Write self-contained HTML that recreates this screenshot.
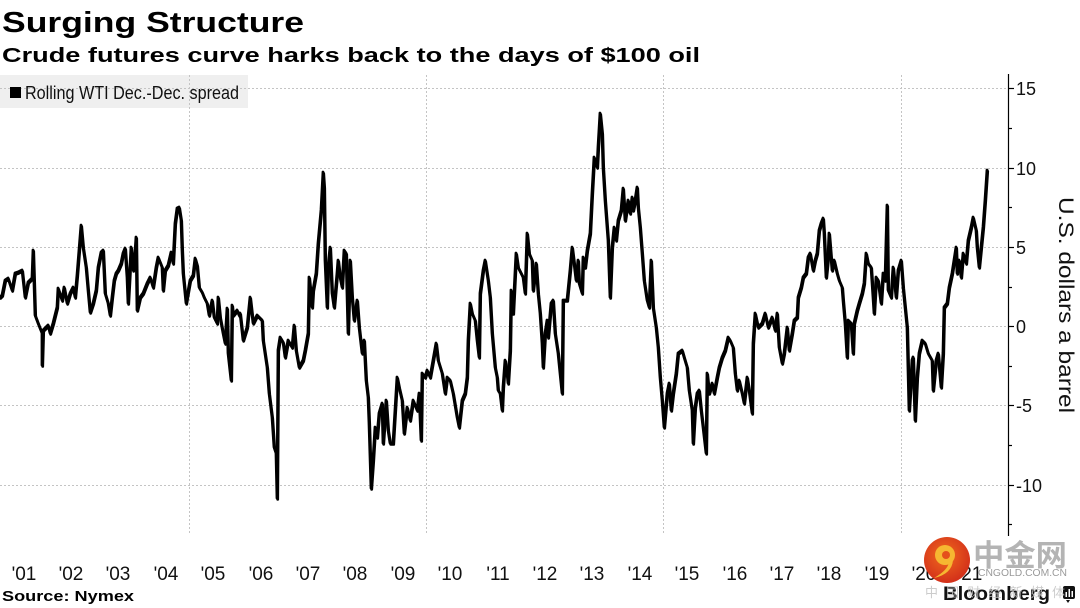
<!DOCTYPE html>
<html>
<head>
<meta charset="utf-8">
<style>
html,body{margin:0;padding:0;background:#fff;}
svg{display:block;}
text{font-family:"Liberation Sans","Noto Sans CJK SC",sans-serif;}
</style>
</head>
<body>
<svg width="1080" height="608" viewBox="0 0 1080 608" xmlns="http://www.w3.org/2000/svg">
<rect x="0" y="0" width="1080" height="608" fill="#ffffff"/>
<!-- titles -->
<text x="2" y="32" font-family="'DejaVu Sans','Liberation Sans',sans-serif" font-size="29" font-weight="bold" fill="#000" textLength="302" lengthAdjust="spacingAndGlyphs">Surging Structure</text>
<text x="2" y="62" font-family="'DejaVu Sans','Liberation Sans',sans-serif" font-size="20" font-weight="bold" fill="#000" textLength="698" lengthAdjust="spacingAndGlyphs">Crude futures curve harks back to the days of $100 oil</text>

<!-- legend box -->
<rect x="0" y="75" width="248" height="33" fill="#efefef"/>

<!-- gridlines -->
<g stroke="#c4c4c4" stroke-width="1" stroke-dasharray="2,2" fill="none">
<line x1="0" y1="88.5" x2="1008" y2="88.5"/>
<line x1="0" y1="168.5" x2="1008" y2="168.5"/>
<line x1="0" y1="247.5" x2="1008" y2="247.5"/>
<line x1="0" y1="326.5" x2="1008" y2="326.5"/>
<line x1="0" y1="405.5" x2="1008" y2="405.5"/>
<line x1="0" y1="485.5" x2="1008" y2="485.5"/>
<line x1="189.5" y1="75" x2="189.5" y2="535"/>
<line x1="426.5" y1="75" x2="426.5" y2="535"/>
<line x1="663.5" y1="75" x2="663.5" y2="535"/>
<line x1="901.5" y1="75" x2="901.5" y2="535"/>
</g>

<!-- legend content -->
<rect x="10" y="87" width="11" height="11" fill="#000"/>
<text x="25" y="99" font-size="18" fill="#111" textLength="214" lengthAdjust="spacingAndGlyphs">Rolling WTI Dec.-Dec. spread</text>

<!-- right axis -->
<g stroke="#000" stroke-width="1.2">
<line x1="1008.5" y1="74" x2="1008.5" y2="536"/>
<line x1="1008" y1="88.5" x2="1014" y2="88.5"/>
<line x1="1008" y1="128.5" x2="1012" y2="128.5"/>
<line x1="1008" y1="168.5" x2="1014" y2="168.5"/>
<line x1="1008" y1="207.5" x2="1012" y2="207.5"/>
<line x1="1008" y1="247.5" x2="1014" y2="247.5"/>
<line x1="1008" y1="287.5" x2="1012" y2="287.5"/>
<line x1="1008" y1="326.5" x2="1014" y2="326.5"/>
<line x1="1008" y1="366.5" x2="1012" y2="366.5"/>
<line x1="1008" y1="405.5" x2="1014" y2="405.5"/>
<line x1="1008" y1="445.5" x2="1012" y2="445.5"/>
<line x1="1008" y1="485.5" x2="1014" y2="485.5"/>
<line x1="1008" y1="524.5" x2="1012" y2="524.5"/>
</g>
<g font-size="18" fill="#111">
<text x="1016" y="95">15</text>
<text x="1016" y="175">10</text>
<text x="1016" y="254">5</text>
<text x="1016" y="333">0</text>
<text x="1016" y="412">-5</text>
<text x="1016" y="492">-10</text>
</g>
<text transform="translate(1059,305) rotate(90)" text-anchor="middle" font-size="21" fill="#111" textLength="216" lengthAdjust="spacingAndGlyphs">U.S. dollars a barrel</text>

<!-- x labels -->
<g font-size="19" fill="#111" text-anchor="middle">
<text x="24" y="580">'01</text>
<text x="71" y="580">'02</text>
<text x="118" y="580">'03</text>
<text x="166" y="580">'04</text>
<text x="213" y="580">'05</text>
<text x="261" y="580">'06</text>
<text x="308" y="580">'07</text>
<text x="355" y="580">'08</text>
<text x="403" y="580">'09</text>
<text x="450" y="580">'10</text>
<text x="498" y="580">'11</text>
<text x="545" y="580">'12</text>
<text x="592" y="580">'13</text>
<text x="640" y="580">'14</text>
<text x="687" y="580">'15</text>
<text x="735" y="580">'16</text>
<text x="782" y="580">'17</text>
<text x="829" y="580">'18</text>
<text x="877" y="580">'19</text>
<text x="924" y="580">'20</text>
<text x="970" y="580">'21</text>
</g>

<!-- data series -->
<polyline id="ser" fill="none" stroke="#000" stroke-width="2.8" stroke-linejoin="round" stroke-linecap="round" points="
0,297 2,295 5,280 8,278 12,290 15,273 18,272 22,270 25,297 28,282 32,278 33,250 35,315 38,323 42,333 42,365 43,330 48,325 50,333 53,323 57,307 58,288 62,300 64,287 67,303 70,293 73,287 75,297 77,275 79,250 81,225 83,247 86,267 88,290 90,312 93,303 96,290 98,267 101,252 103,250 105,293 108,303 110,315 112,297 114,280 116,273 118,270 121,263 123,253 125,248 127,277 128,303 131,247 133,270 134,267 136,237 137,310 140,297 143,293 147,283 150,277 153,287 156,267 158,257 162,267 163,290 165,270 168,265 171,252 173,263 175,223 177,208 179,207 181,220 182,250 183,273 186,303 187,297 190,280 193,275 195,258 197,265 199,287 202,292 204,297 207,303 209,315 212,300 214,317 217,323 218,297 220,317 223,333 225,343 227,308 228,353 231,380 232,305 233,315 237,310 239,315
240,313 243,340 247,327 250,297 253,323 257,315 262,320 263,340 267,367 269,393 272,417 274,447 276,453 277,498 278,350 280,337 283,342 285,357 288,340 292,347 294,325 296,350 299,367 303,360 305,350 308,333 309,277 312,307 313,290 316,273 318,243 321,210 323,172 324,187 325,260 327,307 328,267 330,247 332,293 334,307 337,273 338,260 340,277 342,287 344,250 346,253 348,333 350,260 352,297 354,320 357,300 359,327 362,353 364,340 366,380 368,397 369,423 371,488 373,460 375,427 377,437 379,413 382,403 383,443 386,400 388,430 390,443 393,443 395,410 397,377 399,387 402,400 404,433 407,407 410,420 413,400 417,410 419,393 421,440 422,373 425,377 427,370 430,377 433,360 436,343 438,360 442,373 445,393 447,377 450,380 453,393 457,417 459,427 462,400 465,393 467,377 468,340 470,303 472,313 475,320 477,340 479,357 480,293 483,270 485,260
488,280 490,297 492,333 495,367 497,377 498,390 500,393 502,410 503,387 505,360 507,373 508,383 510,350 511,290 513,313 516,253 518,267 521,273 523,277 525,293 527,233 529,253 532,260 533,290 536,263 538,293 540,313 542,343 543,367 545,333 547,320 548,337 551,303 553,300 555,333 558,353 560,373 562,393 563,300 567,300 568,290 570,270 572,247 574,263 576,280 578,260 579,283 582,293 583,257 585,267 587,250 590,233 592,193 594,157 597,167 598,147 600,113 602,133 603,167 605,200 608,240 610,297 612,247 614,227 616,240 618,220 621,210 623,188 625,220 628,200 630,213 632,197 633,210 635,200 637,187 638,207 640,227 642,253 644,280 647,300 649,307 651,260 653,307 656,327 658,347 660,377 662,400 664,427 667,393 669,383 671,410 673,393 676,373 678,353 682,350 684,357 687,367 689,390 692,410 693,443 695,407 697,393 699,390 701,410 703,427 706,453 707,373 709,393 712,383 714,393 717,377 719,367 722,357 725,350 728,337
730,340 733,347 735,373 737,390 739,380 742,393 744,403 747,377 749,390 752,413 753,343 755,313 758,327 762,323 765,313 768,327 772,317 775,330 777,313 779,347 782,363 784,353 787,327 789,350 792,333 794,320 797,317 798,297 801,287 803,277 806,273 808,257 810,253 813,270 815,260 817,253 819,230 821,223 823,218 824,233 826,277 828,257 829,233 832,270 834,260 837,273 839,280 842,287 843,300 845,323 847,357 848,320 851,323 853,353 854,323 857,310 859,303 862,293 864,283 866,253 868,263 871,267 873,297 874,313 876,277 878,280 881,303 883,273 885,280 887,205 888,290 891,297 893,267 896,297 898,270 901,260
903,287 905,307 907,327 909,410 912,360 913,357 915,420 917,377 919,353 922,340 925,343 928,353 932,360 933,390 936,360 938,353 941,387 943,353 944,307 947,303 949,287 952,273 954,260 956,247 957,273 959,260 961,277 963,253 966,263 968,240 971,227 973,217 976,230 977,247 979,267 981,247 983,227 985,200 987,170"/>
<use href="#ser" transform="translate(0.7,1.4)" stroke-width="1.3"/>

<!-- source -->
<text x="2" y="601" font-family="'DejaVu Sans','Liberation Sans',sans-serif" font-size="15" font-weight="bold" fill="#000" textLength="132" lengthAdjust="spacingAndGlyphs">Source: Nymex</text>

<!-- watermark -->
<defs>
<radialGradient id="wg" cx="0.45" cy="0.4" r="0.6">
<stop offset="0" stop-color="#f06a1e"/>
<stop offset="1" stop-color="#d3301a"/>
</radialGradient>
</defs>
<circle cx="947" cy="560" r="23" fill="url(#wg)"/>
<circle cx="945" cy="555" r="10" fill="#f6b731"/>
<circle cx="946" cy="555" r="4" fill="#e4501c"/>
<path d="M953,560 Q952,574 934,578 Q948,570 949,562 Z" fill="#f6b731"/>
<text x="973" y="566" font-family="'Noto Sans CJK SC',sans-serif" font-size="30" font-weight="bold" fill="#b4b4b4" textLength="94" lengthAdjust="spacingAndGlyphs">中金网</text>
<text x="978" y="576" font-size="10" fill="#9a9a9a" textLength="89" lengthAdjust="spacingAndGlyphs">CNGOLD.COM.CN</text>

<!-- Bloomberg -->
<text x="943" y="600" font-size="19" font-weight="bold" fill="#111" textLength="107" lengthAdjust="spacingAndGlyphs">Bloomberg</text>
<rect x="1063" y="586" width="12" height="13" rx="2" fill="#111"/>
<path d="M1066,600 L1068,603 L1070,600 Z" fill="#111"/>
<rect x="1065.5" y="592" width="1.5" height="5" fill="#fff"/>
<rect x="1068.5" y="589" width="1.5" height="8" fill="#fff"/>
<rect x="1071.5" y="591" width="1.5" height="6" fill="#fff"/>
<text x="925" y="597" font-family="'Noto Sans CJK SC',sans-serif" font-size="13" fill="#c4c4c4" opacity="0.85" textLength="140" lengthAdjust="spacing">中 国 财 经 新 媒 体</text>
</svg>
</body>
</html>
